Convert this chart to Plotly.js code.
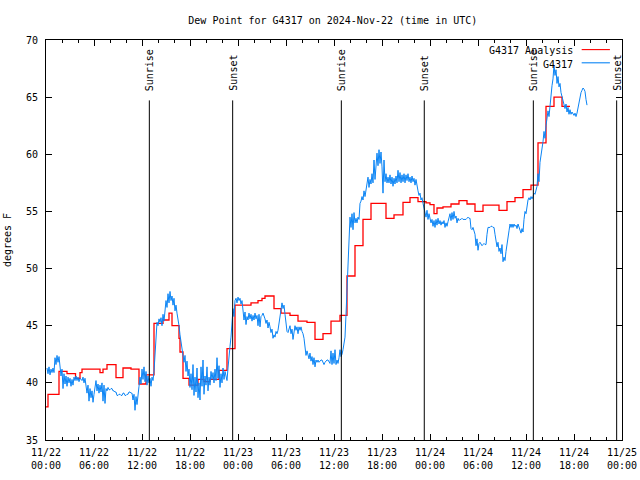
<!DOCTYPE html>
<html>
<head>
<meta charset="utf-8">
<script src="https://cdn.plot.ly/plotly-3.0.1.min.js"></script>
<style>html,body{margin:0;padding:0;background:#fff;}</style>
</head>
<body>
<div id="chart" style="width:640px;height:480px;"></div>
<script>
// ---- data ----
const chartTitle = 'Dew Point for G4317 on 2024-Nov-22 (time in UTC)';
const yTitle = 'degrees F';
const seriesNames = ['G4317 Analysis', 'G4317'];

// observations: regular 7.5-minute reports starting 2024-11-22 00:07:30 UTC
const obsStart = '2024-11-22T00:07:30Z';
const obsStepMinutes = 7.5;
const obsValues = [
41.3,40.8,41.4,40.7,41.2,40.9,41.3,40.9,42.2,41.6,
42.4,41.8,42.3,41.4,40.6,41.2,39.5,40.8,39.9,40.6,
39.7,40.5,40.0,40.4,39.7,40.3,39.8,40.5,40.2,40.6,
40.2,40.5,40.1,40.4,40.3,40.2,40.5,40.0,40.4,39.6,
39.1,39.8,38.4,39.5,38.7,39.3,38.3,39.0,39.5,40.2,
39.3,39.9,39.1,39.8,39.2,40.0,38.4,39.8,38.2,39.5,
39.3,39.6,39.4,39.4,39.5,39.5,39.3,39.3,39.2,39.2,
38.9,38.9,39.0,39.0,38.9,38.9,39.1,39.1,38.9,38.9,
39.0,39.0,39.2,39.2,39.1,39.1,38.5,39.0,37.6,38.8,
38.1,39.3,39.7,40.5,39.9,41.2,40.3,41.4,40.1,41.0,
39.8,40.6,40.0,40.4,39.7,40.5,40.2,41.0,42.5,44.5,
45.3,45.0,45.6,45.3,45.7,45.0,46.0,45.4,46.5,47.2,
46.6,47.8,47.0,48.0,47.2,47.6,46.8,47.4,46.3,46.8,
46.1,45.6,45.0,44.2,43.5,43.2,42.2,41.8,42.4,41.0,
41.9,40.6,41.2,39.6,40.8,39.4,41.6,38.9,40.5,39.2,
41.3,38.7,40.0,38.5,41.4,39.7,42.0,39.0,40.6,39.8,
41.4,39.3,40.5,39.8,41.0,40.3,40.9,40.0,41.2,40.2,
42.2,40.4,41.5,39.6,40.8,40.0,41.3,40.3,41.0,40.5,
40.2,41.3,42.0,43.2,44.0,45.4,46.5,45.8,47.2,47.4,
47.0,47.5,47.2,47.4,46.9,47.2,46.5,45.5,46.2,45.1,
45.8,45.5,46.1,45.6,46.0,45.4,45.9,45.5,46.1,45.6,
45.9,45.0,46.0,44.9,45.8,45.9,46.1,45.9,45.6,45.2,
45.5,44.8,45.3,44.9,44.4,44.7,43.9,44.2,44.0,44.5,
44.3,44.6,45.2,45.8,46.3,47.0,46.5,46.8,46.0,45.2,
44.5,44.4,44.8,45.0,44.3,44.7,43.8,44.4,45.0,44.6,
44.9,44.3,44.9,44.6,44.9,44.5,44.3,43.9,43.2,42.4,
42.8,42.4,42.1,42.6,41.9,42.3,41.6,42.2,41.4,42.0,
41.8,42.0,41.8,41.9,42.0,42.0,41.7,41.6,41.8,41.9,
42.0,42.0,41.8,41.7,42.8,41.6,42.6,41.7,42.9,41.6,
42.0,41.7,42.2,42.9,42.3,42.5,42.9,43.5,44.0,46.0,
48.5,51.0,53.2,54.5,53.6,54.8,53.4,54.9,54.0,54.4,
54.0,54.5,54.3,55.7,55.9,56.3,56.0,56.8,56.3,56.9,
57.2,58.0,57.1,57.8,57.4,58.3,57.5,59.5,57.8,59.0,
60.1,59.0,60.4,59.2,60.2,58.9,56.6,59.5,57.6,58.3,
57.5,58.0,57.5,58.2,57.4,58.0,57.2,57.9,57.4,58.1,
57.5,58.6,57.6,58.4,57.5,58.2,57.6,58.3,57.5,58.2,
57.7,58.3,57.6,58.0,57.5,58.1,57.6,57.9,57.3,57.8,
57.1,56.8,56.4,56.6,56.0,56.2,55.7,55.3,55.0,54.5,
55.1,54.3,54.8,54.4,54.0,54.3,53.7,54.2,53.6,54.3,
53.8,54.4,53.9,54.2,53.8,54.1,53.9,54.2,53.6,54.0,
53.7,54.1,54.4,54.8,54.2,54.9,54.3,55.0,54.4,54.6,
54.0,54.4,54.2,54.3,54.3,54.4,54.3,54.3,54.3,54.3,
54.4,54.5,54.4,54.4,53.5,53.4,53.6,53.3,53.0,52.0,
52.6,51.6,52.2,52.3,52.1,52.0,52.1,52.2,52.1,52.1,
53.0,53.6,53.6,53.6,53.7,53.7,53.6,53.6,53.0,52.5,
51.9,52.3,51.5,51.8,51.3,52.1,50.6,51.0,50.7,51.5,
52.3,53.1,53.3,53.9,53.6,53.9,53.6,53.9,53.7,53.8,
53.5,53.9,53.6,53.3,53.1,53.5,53.2,54.3,55.0,54.8,
55.5,56.0,56.2,56.0,56.3,56.1,56.3,56.6,56.5,56.9,
57.2,58.3,57.6,59.3,59.8,60.5,61.1,62.0,61.4,62.5,
63.0,63.8,63.3,64.5,65.2,66.0,66.6,67.8,66.9,67.4,
66.2,66.8,65.9,66.2,65.4,65.0,64.6,64.2,64.0,64.4,
63.7,64.1,63.5,63.9,63.5,63.7,63.5,63.4,63.6,63.3,
63.6,64.1,64.6,65.0,65.4,65.6,65.8,65.7,65.5,64.8,
64.3
];

// analysis: step changes, hours after 2024-11-22 00:00 UTC
const anaHours = [0,0.25,1.625,2.625,3.69,4.25,4.5,6.75,7.125,7.625,8.75,9.625,10.625,11.625,12.5,13.5,14.625,15.375,15.75,16.625,16.75,17.125,17.875,19,19.75,20.5,21.625,22.625,23.625,25.625,26.5,27,27.375,28.5,29.375,30.5,31.5,32.625,33.625,34.625,35.625,36.75,37.625,38.625,39.625,40.625,42.5,43.5,44.625,45.5,46.5,47.5,48,48.5,48.875,49.625,50.625,51.625,52.625,53.625,54.625,56.625,57.625,58.625,59.625,60.625,61.5,62.5,63.5,64.5,65.5];
const anaValues = [37.9,39.0,41.0,40.8,40.4,40.9,41.2,40.9,41.2,41.6,40.45,41.3,41.2,39.9,40.7,45.2,45.5,46.1,45.0,43.9,42.7,40.4,39.8,40.3,40.1,40.3,41.1,43.0,46.8,47.0,47.2,47.4,47.6,46.5,46.1,45.9,45.4,45.3,43.8,44.3,45.4,45.9,49.35,52.0,54.3,55.7,54.4,54.7,55.8,56.2,55.85,55.75,55.6,54.8,55.3,55.4,55.65,55.95,55.65,55.0,55.55,55.1,55.85,56.2,56.9,57.3,61.0,64.2,65.0,64.2,64.2];

// sun events (UTC)
const sunTimes = ['2024-11-22 12:55','2024-11-22 23:20','2024-11-23 12:55','2024-11-23 23:17','2024-11-24 12:55','2024-11-24 23:20'];
const sunLabels = ['Sunrise','Sunset','Sunrise','Sunset','Sunrise','Sunset'];

// axis ticks
const xTickVals = ['2024-11-22 00:00','2024-11-22 06:00','2024-11-22 12:00','2024-11-22 18:00','2024-11-23 00:00','2024-11-23 06:00','2024-11-23 12:00','2024-11-23 18:00','2024-11-24 00:00','2024-11-24 06:00','2024-11-24 12:00','2024-11-24 18:00','2024-11-25 00:00'];
const xTickText = ['11/22<br>00:00','11/22<br>06:00','11/22<br>12:00','11/22<br>18:00','11/23<br>00:00','11/23<br>06:00','11/23<br>12:00','11/23<br>18:00','11/24<br>00:00','11/24<br>06:00','11/24<br>12:00','11/24<br>18:00','11/25<br>00:00'];
const xRange = ['2024-11-22 00:00','2024-11-25 00:00'];
const yRange = [35, 70];

// ---- build ----
function fmt(ms){ return new Date(ms).toISOString().slice(0,19).replace('T',' '); }
const t0 = Date.parse('2024-11-22T00:00:00Z');
const obsT0 = Date.parse(obsStart);
const obsTimes = obsValues.map((v,i)=>fmt(obsT0 + i*obsStepMinutes*60000));
const anaTimes = anaHours.map(h=>fmt(t0 + h*3600000));

const FONT = 'DejaVu Sans Mono, Liberation Mono, monospace';
const RED = '#ff0000', BLUE = '#0a84f5';

const traces = [
  {x: anaTimes, y: anaValues, type:'scatter', mode:'lines', line:{color:RED, width:1.3, shape:'hv'}, name:seriesNames[0], showlegend:false},
  {x: obsTimes, y: obsValues, type:'scatter', mode:'lines', line:{color:BLUE, width:1}, name:seriesNames[1], showlegend:false}
];

const shapes = [];
const annotations = [];
sunTimes.forEach((t,i)=>{
  shapes.push({type:'line', xref:'x', yref:'paper', x0:t, x1:t, y0:0, y1:0.849, line:{color:'black', width:1}});
  annotations.push({text:sunLabels[i], x:t, xref:'x', y:0.87, yref:'paper', yanchor:'bottom', xanchor:'center', textangle:-90, showarrow:false, font:{family:FONT, size:10, color:'black'}, borderpad:0});
});
// key (gnuplot style: label then line sample)
const keyColors = [RED, BLUE];
const keyY = [0.973, 0.940];
seriesNames.forEach((n,i)=>{
  annotations.push({text:n, xref:'paper', yref:'paper', x:0.917, y:keyY[i], xanchor:'right', yanchor:'middle', showarrow:false, font:{family:FONT, size:10, color:'black'}, borderpad:0});
  shapes.push({type:'line', xref:'paper', yref:'paper', x0:0.930, x1:0.979, y0:keyY[i]+0.003, y1:keyY[i]+0.003, line:{color:keyColors[i], width:1.1}});
});

const layout = {
  width:640, height:480,
  margin:{l:46, r:18, t:40, b:40, pad:0},
  paper_bgcolor:'white', plot_bgcolor:'white',
  font:{family:FONT, size:10, color:'black'},
  showlegend:false,
  title:{text:chartTitle, x:0.52, xref:'container', xanchor:'center', y:0.958, yref:'container', yanchor:'middle', font:{family:FONT, size:10, color:'black'}},
  xaxis:{type:'date', range:xRange, tickmode:'array', tickvals:xTickVals, ticktext:xTickText,
    ticks:'inside', ticklen:6, tickcolor:'black', tickwidth:1, showline:true, linecolor:'black', linewidth:1,
    mirror:'ticks', showgrid:false, zeroline:false, automargin:false, ticklabelstandoff:3,
    tickfont:{family:FONT, size:10, color:'black'},
    minor:{dtick:2*3600000, ticks:'inside', ticklen:3, tickcolor:'black', showgrid:false}},
  yaxis:{range:yRange, dtick:5, tick0:35, ticks:'inside', ticklen:6, tickcolor:'black', tickwidth:1,
    showline:true, linecolor:'black', linewidth:1, mirror:'ticks', showgrid:false, zeroline:false, automargin:false,
    ticklabelstandoff:5,
    tickfont:{family:FONT, size:10, color:'black'},
    title:{text:yTitle, standoff:12, font:{family:FONT, size:10, color:'black'}}},
  shapes: shapes,
  annotations: annotations
};

Plotly.newPlot('chart', traces, layout, {displayModeBar:false, staticPlot:true});
</script>
</body>
</html>
